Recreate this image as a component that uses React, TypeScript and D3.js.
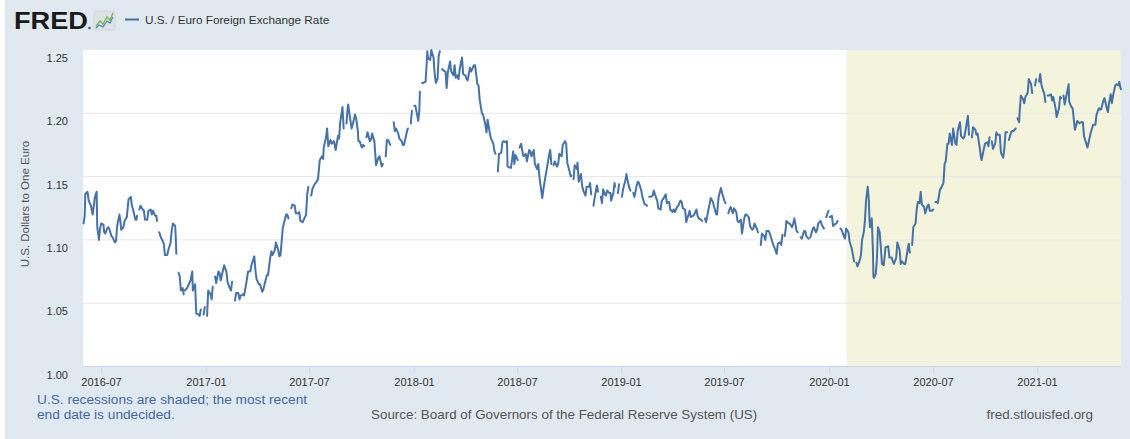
import React from "react";
import * as d3 from "d3";

type Obs = [string, number | null];

// U.S. dollars to one euro (null = missing observation, line breaks)
const rates2016: Obs[] = [
  ["2016-05-31", 1.113], ["2016-06-02", 1.119], ["2016-06-03", 1.1365], ["2016-06-07", 1.138], ["2016-06-09", 1.131],
  ["2016-06-13", 1.127], ["2016-06-16", 1.12], ["2016-06-20", 1.134], ["2016-06-23", 1.138], ["2016-06-24", 1.1105],
  ["2016-06-27", 1.1], ["2016-06-29", 1.109], ["2016-07-01", 1.113], ["2016-07-05", 1.112], ["2016-07-06", 1.1065],
  ["2016-07-08", 1.105], ["2016-07-11", 1.1085], ["2016-07-13", 1.11], ["2016-07-15", 1.109], ["2016-07-19", 1.103],
  ["2016-07-21", 1.102], ["2016-07-25", 1.098], ["2016-07-27", 1.099], ["2016-07-29", 1.111], ["2016-08-02", 1.12],
  ["2016-08-04", 1.114], ["2016-08-05", 1.108], ["2016-08-09", 1.11], ["2016-08-11", 1.115], ["2016-08-15", 1.118],
  ["2016-08-18", 1.132], ["2016-08-22", 1.134], ["2016-08-24", 1.127], ["2016-08-26", 1.124], ["2016-08-30", 1.116],
  ["2016-09-01", 1.116], ["2016-09-02", 1.119], ["2016-09-05", null], ["2016-09-06", 1.124], ["2016-09-08", 1.127],
  ["2016-09-12", 1.124], ["2016-09-14", 1.123], ["2016-09-16", 1.116], ["2016-09-20", 1.116], ["2016-09-22", 1.123],
  ["2016-09-26", 1.124], ["2016-09-28", 1.12], ["2016-09-30", 1.123], ["2016-10-04", 1.119], ["2016-10-06", 1.119],
  ["2016-10-07", 1.115], ["2016-10-10", null], ["2016-10-11", 1.106], ["2016-10-13", 1.103], ["2016-10-17", 1.099],
  ["2016-10-19", 1.097], ["2016-10-21", 1.088], ["2016-10-25", 1.088], ["2016-10-27", 1.092], ["2016-10-31", 1.098],
  ["2016-11-02", 1.108], ["2016-11-04", 1.113], ["2016-11-08", 1.111], ["2016-11-09", 1.102], ["2016-11-10", 1.089],
  ["2016-11-11", null], ["2016-11-14", 1.074], ["2016-11-16", 1.071], ["2016-11-18", 1.06], ["2016-11-21", 1.062],
  ["2016-11-23", 1.057], ["2016-11-24", null], ["2016-11-25", 1.06], ["2016-11-29", 1.062], ["2016-12-01", 1.064],
  ["2016-12-05", 1.068], ["2016-12-08", 1.075], ["2016-12-09", 1.06], ["2016-12-13", 1.065], ["2016-12-15", 1.042],
  ["2016-12-19", 1.041], ["2016-12-21", 1.04], ["2016-12-23", 1.045], ["2016-12-26", null], ["2016-12-28", 1.041],
  ["2016-12-30", 1.047],
];

const rates2017: Obs[] = [
  ["2017-01-02", null], ["2017-01-03", 1.04], ["2017-01-05", 1.06], ["2017-01-09", 1.057], ["2017-01-11", 1.053],
  ["2017-01-13", 1.063], ["2017-01-16", null], ["2017-01-17", 1.071], ["2017-01-19", 1.066], ["2017-01-23", 1.075],
  ["2017-01-25", 1.074], ["2017-01-27", 1.068], ["2017-01-31", 1.076], ["2017-02-02", 1.08], ["2017-02-06", 1.075],
  ["2017-02-08", 1.067], ["2017-02-10", 1.064], ["2017-02-14", 1.06], ["2017-02-16", 1.067], ["2017-02-20", null],
  ["2017-02-21", 1.052], ["2017-02-23", 1.058], ["2017-02-27", 1.058], ["2017-03-01", 1.053], ["2017-03-03", 1.056],
  ["2017-03-07", 1.057], ["2017-03-09", 1.056], ["2017-03-13", 1.066], ["2017-03-16", 1.075], ["2017-03-20", 1.075],
  ["2017-03-22", 1.08], ["2017-03-27", 1.087], ["2017-03-29", 1.076], ["2017-03-31", 1.069], ["2017-04-04", 1.065],
  ["2017-04-06", 1.065], ["2017-04-10", 1.059], ["2017-04-12", 1.061], ["2017-04-18", 1.072], ["2017-04-20", 1.072],
  ["2017-04-24", 1.086], ["2017-04-26", 1.091], ["2017-04-28", 1.088], ["2017-05-02", 1.092], ["2017-05-04", 1.098],
  ["2017-05-08", 1.092], ["2017-05-10", 1.087], ["2017-05-12", 1.088], ["2017-05-16", 1.109], ["2017-05-18", 1.113],
  ["2017-05-22", 1.12], ["2017-05-24", 1.12], ["2017-05-26", 1.117], ["2017-05-29", null], ["2017-05-31", 1.125],
  ["2017-06-02", 1.128], ["2017-06-06", 1.127], ["2017-06-08", 1.121], ["2017-06-12", 1.121], ["2017-06-14", 1.122],
  ["2017-06-16", 1.115], ["2017-06-20", 1.114], ["2017-06-22", 1.116], ["2017-06-26", 1.12], ["2017-06-28", 1.136],
  ["2017-06-30", 1.142], ["2017-07-04", null], ["2017-07-05", 1.135], ["2017-07-07", 1.14], ["2017-07-11", 1.144],
  ["2017-07-13", 1.145], ["2017-07-17", 1.148], ["2017-07-20", 1.163], ["2017-07-24", 1.166], ["2017-07-26", 1.164],
  ["2017-07-27", 1.173], ["2017-07-31", 1.181], ["2017-08-02", 1.188], ["2017-08-04", 1.174], ["2017-08-08", 1.179],
  ["2017-08-10", 1.176], ["2017-08-14", 1.178], ["2017-08-17", 1.171], ["2017-08-21", 1.182], ["2017-08-23", 1.18],
  ["2017-08-25", 1.193], ["2017-08-29", 1.205], ["2017-08-31", 1.188], ["2017-09-04", null], ["2017-09-05", 1.192],
  ["2017-09-07", 1.204], ["2017-09-08", 1.207], ["2017-09-12", 1.194], ["2017-09-14", 1.188], ["2017-09-18", 1.195],
  ["2017-09-20", 1.199], ["2017-09-22", 1.196], ["2017-09-25", 1.186], ["2017-09-26", 1.178], ["2017-09-28", 1.178],
  ["2017-10-02", 1.173], ["2017-10-04", 1.175], ["2017-10-06", 1.174], ["2017-10-09", null], ["2017-10-10", 1.181],
  ["2017-10-12", 1.185], ["2017-10-16", 1.178], ["2017-10-18", 1.179], ["2017-10-20", 1.184], ["2017-10-24", 1.178],
  ["2017-10-26", 1.165], ["2017-10-27", 1.159], ["2017-10-31", 1.165], ["2017-11-02", 1.166], ["2017-11-06", 1.158],
  ["2017-11-08", 1.16], ["2017-11-10", null], ["2017-11-13", 1.166], ["2017-11-15", 1.179], ["2017-11-17", 1.179],
  ["2017-11-21", 1.175], ["2017-11-23", null], ["2017-11-27", 1.193], ["2017-11-29", 1.186], ["2017-12-01", 1.188],
  ["2017-12-05", 1.184], ["2017-12-07", 1.18], ["2017-12-11", 1.178], ["2017-12-13", 1.175], ["2017-12-15", 1.175],
  ["2017-12-19", 1.183], ["2017-12-21", 1.187], ["2017-12-22", 1.188], ["2017-12-25", null], ["2017-12-27", 1.192],
  ["2017-12-29", 1.202],
];

const rates2018: Obs[] = [
  ["2018-01-01", null], ["2018-01-02", 1.206], ["2018-01-04", 1.206], ["2018-01-08", 1.197], ["2018-01-09", 1.194],
  ["2018-01-11", 1.202], ["2018-01-12", 1.217], ["2018-01-15", null], ["2018-01-16", 1.224], ["2018-01-18", 1.224],
  ["2018-01-22", 1.225], ["2018-01-24", 1.24], ["2018-01-25", 1.249], ["2018-01-26", 1.244], ["2018-01-30", 1.242],
  ["2018-02-01", 1.25], ["2018-02-05", 1.244], ["2018-02-07", 1.231], ["2018-02-09", 1.224], ["2018-02-12", 1.227],
  ["2018-02-14", 1.245], ["2018-02-16", 1.249], ["2018-02-19", null], ["2018-02-20", 1.235], ["2018-02-22", 1.234],
  ["2018-02-26", 1.233], ["2018-02-28", 1.22], ["2018-03-02", 1.232], ["2018-03-06", 1.241], ["2018-03-08", 1.233],
  ["2018-03-12", 1.23], ["2018-03-14", 1.238], ["2018-03-16", 1.228], ["2018-03-19", 1.23], ["2018-03-21", 1.227],
  ["2018-03-23", 1.235], ["2018-03-27", 1.244], ["2018-03-29", 1.231], ["2018-04-02", 1.23], ["2018-04-04", 1.227],
  ["2018-04-06", 1.226], ["2018-04-10", 1.236], ["2018-04-12", 1.233], ["2018-04-17", 1.238], ["2018-04-19", 1.238],
  ["2018-04-23", 1.223], ["2018-04-25", 1.222], ["2018-04-27", 1.211], ["2018-05-01", 1.2], ["2018-05-03", 1.199],
  ["2018-05-07", 1.191], ["2018-05-09", 1.185], ["2018-05-11", 1.195], ["2018-05-15", 1.184], ["2018-05-17", 1.18],
  ["2018-05-21", 1.176], ["2018-05-23", 1.17], ["2018-05-25", 1.168], ["2018-05-28", null], ["2018-05-29", 1.154],
  ["2018-05-31", 1.168], ["2018-06-04", 1.169], ["2018-06-06", 1.177], ["2018-06-08", 1.178], ["2018-06-12", 1.177],
  ["2018-06-14", 1.178], ["2018-06-15", 1.158], ["2018-06-19", 1.157], ["2018-06-21", 1.157], ["2018-06-25", 1.17],
  ["2018-06-27", 1.16], ["2018-06-29", 1.167], ["2018-07-03", 1.163], ["2018-07-04", null], ["2018-07-06", 1.173],
  ["2018-07-09", 1.176], ["2018-07-11", 1.17], ["2018-07-13", 1.166], ["2018-07-17", 1.168], ["2018-07-19", 1.162],
  ["2018-07-23", 1.171], ["2018-07-25", 1.17], ["2018-07-27", 1.166], ["2018-07-31", 1.171], ["2018-08-02", 1.16],
  ["2018-08-06", 1.156], ["2018-08-08", 1.16], ["2018-08-10", 1.15], ["2018-08-13", 1.14], ["2018-08-15", 1.133],
  ["2018-08-17", 1.14], ["2018-08-21", 1.151], ["2018-08-23", 1.156], ["2018-08-27", 1.167], ["2018-08-29", 1.171],
  ["2018-08-31", 1.16], ["2018-09-03", null], ["2018-09-04", 1.159], ["2018-09-06", 1.162], ["2018-09-10", 1.158],
  ["2018-09-12", 1.16], ["2018-09-14", 1.168], ["2018-09-18", 1.166], ["2018-09-20", 1.175], ["2018-09-24", 1.178],
  ["2018-09-26", 1.176], ["2018-09-28", 1.161], ["2018-10-02", 1.154], ["2018-10-04", 1.15], ["2018-10-05", 1.151],
  ["2018-10-08", null], ["2018-10-09", 1.148], ["2018-10-11", 1.159], ["2018-10-15", 1.156], ["2018-10-16", 1.161],
  ["2018-10-18", 1.146], ["2018-10-22", 1.152], ["2018-10-24", 1.143], ["2018-10-26", 1.139], ["2018-10-30", 1.135],
  ["2018-11-01", 1.142], ["2018-11-05", 1.142], ["2018-11-07", 1.145], ["2018-11-09", 1.136], ["2018-11-12", null],
  ["2018-11-13", 1.127], ["2018-11-15", 1.133], ["2018-11-19", 1.143], ["2018-11-21", 1.138], ["2018-11-22", null],
  ["2018-11-26", 1.134], ["2018-11-28", 1.129], ["2018-11-30", 1.14], ["2018-12-03", 1.136], ["2018-12-05", 1.135],
  ["2018-12-07", 1.139], ["2018-12-11", 1.137], ["2018-12-13", 1.137], ["2018-12-14", 1.131], ["2018-12-18", 1.137],
  ["2018-12-20", 1.145], ["2018-12-21", 1.142], ["2018-12-25", null], ["2018-12-26", 1.137], ["2018-12-28", 1.144],
];

const rates2019: Obs[] = [
  ["2019-01-01", null], ["2019-01-02", 1.134], ["2019-01-04", 1.14], ["2019-01-08", 1.147], ["2019-01-10", 1.152],
  ["2019-01-11", 1.149], ["2019-01-15", 1.141], ["2019-01-17", 1.139], ["2019-01-21", null], ["2019-01-22", 1.137],
  ["2019-01-24", 1.134], ["2019-01-28", 1.143], ["2019-01-30", 1.146], ["2019-02-01", 1.145], ["2019-02-05", 1.139],
  ["2019-02-07", 1.134], ["2019-02-11", 1.128], ["2019-02-13", 1.128], ["2019-02-15", 1.127], ["2019-02-18", null],
  ["2019-02-19", 1.134], ["2019-02-21", 1.134], ["2019-02-25", 1.135], ["2019-02-27", 1.139], ["2019-03-01", 1.136],
  ["2019-03-05", 1.131], ["2019-03-07", 1.125], ["2019-03-11", 1.124], ["2019-03-13", 1.131], ["2019-03-15", 1.132],
  ["2019-03-19", 1.135], ["2019-03-20", 1.136], ["2019-03-22", 1.129], ["2019-03-26", 1.13], ["2019-03-28", 1.124],
  ["2019-04-01", 1.122], ["2019-04-03", 1.124], ["2019-04-05", 1.122], ["2019-04-09", 1.126], ["2019-04-11", 1.127],
  ["2019-04-15", 1.131], ["2019-04-17", 1.13], ["2019-04-19", 1.125], ["2019-04-23", 1.124], ["2019-04-25", 1.114],
  ["2019-04-29", 1.12], ["2019-05-01", 1.123], ["2019-05-03", 1.118], ["2019-05-07", 1.119], ["2019-05-09", 1.12],
  ["2019-05-13", 1.124], ["2019-05-15", 1.119], ["2019-05-17", 1.117], ["2019-05-21", 1.116], ["2019-05-23", 1.115],
  ["2019-05-27", null], ["2019-05-28", 1.117], ["2019-05-30", 1.114], ["2019-06-03", 1.124], ["2019-06-05", 1.128],
  ["2019-06-07", 1.133], ["2019-06-11", 1.13], ["2019-06-13", 1.126], ["2019-06-17", 1.12], ["2019-06-18", 1.12],
  ["2019-06-21", 1.134], ["2019-06-25", 1.141], ["2019-06-27", 1.137], ["2019-07-01", 1.131], ["2019-07-03", 1.129],
  ["2019-07-04", null], ["2019-07-08", 1.121], ["2019-07-10", 1.124], ["2019-07-12", 1.126], ["2019-07-16", 1.121],
  ["2019-07-18", 1.125], ["2019-07-22", 1.122], ["2019-07-24", 1.115], ["2019-07-26", 1.114], ["2019-07-30", 1.116],
  ["2019-08-01", 1.105], ["2019-08-05", 1.117], ["2019-08-07", 1.12], ["2019-08-09", 1.12], ["2019-08-13", 1.118],
  ["2019-08-15", 1.111], ["2019-08-19", 1.108], ["2019-08-21", 1.109], ["2019-08-23", 1.113], ["2019-08-27", 1.109],
  ["2019-08-29", 1.106], ["2019-09-02", null], ["2019-09-03", 1.096], ["2019-09-05", 1.105], ["2019-09-09", 1.103],
  ["2019-09-11", 1.1], ["2019-09-13", 1.107], ["2019-09-17", 1.107], ["2019-09-19", 1.105], ["2019-09-23", 1.099],
  ["2019-09-25", 1.096], ["2019-09-27", 1.094], ["2019-10-01", 1.089], ["2019-10-03", 1.097], ["2019-10-07", 1.098],
  ["2019-10-09", 1.096], ["2019-10-11", 1.104], ["2019-10-14", null], ["2019-10-15", 1.103], ["2019-10-17", 1.109],
  ["2019-10-18", 1.115], ["2019-10-22", 1.113], ["2019-10-24", 1.113], ["2019-10-28", 1.11], ["2019-10-30", 1.113],
  ["2019-11-01", 1.117], ["2019-11-05", 1.107], ["2019-11-07", 1.106], ["2019-11-11", null], ["2019-11-12", 1.102],
  ["2019-11-14", 1.101], ["2019-11-18", 1.107], ["2019-11-20", 1.107], ["2019-11-22", 1.103], ["2019-11-26", 1.101],
  ["2019-11-28", null], ["2019-11-29", 1.102], ["2019-12-03", 1.108], ["2019-12-05", 1.11], ["2019-12-09", 1.106],
  ["2019-12-11", 1.108], ["2019-12-13", 1.113], ["2019-12-17", 1.115], ["2019-12-19", 1.112], ["2019-12-23", 1.109],
  ["2019-12-25", null], ["2019-12-27", 1.118], ["2019-12-31", 1.123],
];

const rates2020: Obs[] = [
  ["2020-01-01", null], ["2020-01-02", 1.118], ["2020-01-06", 1.119], ["2020-01-08", 1.111], ["2020-01-10", 1.112],
  ["2020-01-14", 1.113], ["2020-01-16", 1.115], ["2020-01-20", null], ["2020-01-21", 1.109], ["2020-01-23", 1.108],
  ["2020-01-27", 1.103], ["2020-01-29", 1.101], ["2020-01-31", 1.109], ["2020-02-04", 1.106], ["2020-02-06", 1.099],
  ["2020-02-10", 1.093], ["2020-02-12", 1.088], ["2020-02-14", 1.083], ["2020-02-17", null], ["2020-02-18", 1.082],
  ["2020-02-20", 1.079], ["2020-02-24", 1.084], ["2020-02-26", 1.088], ["2020-02-28", 1.1], ["2020-03-02", 1.106],
  ["2020-03-04", 1.115], ["2020-03-06", 1.131], ["2020-03-09", 1.142], ["2020-03-11", 1.131], ["2020-03-12", 1.116],
  ["2020-03-13", 1.11], ["2020-03-16", 1.117], ["2020-03-18", 1.093], ["2020-03-19", 1.071], ["2020-03-20", 1.07],
  ["2020-03-23", 1.073], ["2020-03-25", 1.084], ["2020-03-27", 1.11], ["2020-03-30", 1.106], ["2020-04-01", 1.094],
  ["2020-04-03", 1.081], ["2020-04-06", 1.08], ["2020-04-08", 1.088], ["2020-04-09", 1.094], ["2020-04-14", 1.095],
  ["2020-04-16", 1.086], ["2020-04-20", 1.086], ["2020-04-22", 1.083], ["2020-04-24", 1.081], ["2020-04-28", 1.086],
  ["2020-04-30", 1.098], ["2020-05-04", 1.092], ["2020-05-06", 1.081], ["2020-05-08", 1.083], ["2020-05-12", 1.081],
  ["2020-05-14", 1.081], ["2020-05-18", 1.092], ["2020-05-20", 1.097], ["2020-05-22", 1.09], ["2020-05-25", null],
  ["2020-05-26", 1.096], ["2020-05-28", 1.11], ["2020-06-01", 1.113], ["2020-06-03", 1.124], ["2020-06-05", 1.13],
  ["2020-06-08", 1.129], ["2020-06-10", 1.138], ["2020-06-12", 1.128], ["2020-06-16", 1.126], ["2020-06-18", 1.121],
  ["2020-06-22", 1.127], ["2020-06-24", 1.128], ["2020-06-26", 1.123], ["2020-06-30", 1.123], ["2020-07-02", 1.124],
  ["2020-07-03", null], ["2020-07-06", 1.13], ["2020-07-08", 1.13], ["2020-07-10", 1.129], ["2020-07-14", 1.14],
  ["2020-07-16", 1.141], ["2020-07-20", 1.145], ["2020-07-22", 1.16], ["2020-07-24", 1.162], ["2020-07-27", 1.176],
  ["2020-07-29", 1.176], ["2020-07-31", 1.184], ["2020-08-04", 1.175], ["2020-08-06", 1.188], ["2020-08-10", 1.176],
  ["2020-08-12", 1.175], ["2020-08-14", 1.186], ["2020-08-18", 1.193], ["2020-08-20", 1.182], ["2020-08-24", 1.18],
  ["2020-08-26", 1.182], ["2020-08-28", 1.187], ["2020-09-01", 1.198], ["2020-09-03", 1.183], ["2020-09-07", null],
  ["2020-09-08", 1.181], ["2020-09-10", 1.189], ["2020-09-14", 1.187], ["2020-09-16", 1.183], ["2020-09-18", 1.184],
  ["2020-09-22", 1.172], ["2020-09-24", 1.165], ["2020-09-25", 1.163], ["2020-09-29", 1.172], ["2020-10-01", 1.176],
  ["2020-10-05", 1.177], ["2020-10-07", 1.174], ["2020-10-09", 1.181], ["2020-10-12", null], ["2020-10-13", 1.178],
  ["2020-10-15", 1.172], ["2020-10-19", 1.176], ["2020-10-21", 1.185], ["2020-10-23", 1.183], ["2020-10-27", 1.183],
  ["2020-10-29", 1.169], ["2020-11-02", 1.165], ["2020-11-04", 1.172], ["2020-11-06", 1.185], ["2020-11-09", 1.185],
  ["2020-11-11", null], ["2020-11-12", 1.179], ["2020-11-16", 1.185], ["2020-11-18", 1.186], ["2020-11-20", 1.186],
  ["2020-11-24", 1.188], ["2020-11-26", null], ["2020-11-27", 1.196], ["2020-11-30", 1.193], ["2020-12-01", 1.202],
  ["2020-12-03", 1.214], ["2020-12-07", 1.211], ["2020-12-09", 1.208], ["2020-12-11", 1.213], ["2020-12-15", 1.216],
  ["2020-12-17", 1.227], ["2020-12-21", 1.223], ["2020-12-23", 1.216], ["2020-12-25", null], ["2020-12-28", 1.222],
  ["2020-12-30", 1.227],
];

const rates2021: Obs[] = [
  ["2021-01-01", null], ["2021-01-04", 1.225], ["2021-01-06", 1.231], ["2021-01-08", 1.223], ["2021-01-11", 1.218],
  ["2021-01-13", 1.216], ["2021-01-15", 1.209], ["2021-01-18", null], ["2021-01-19", 1.214], ["2021-01-21", 1.214],
  ["2021-01-25", 1.215], ["2021-01-27", 1.21], ["2021-01-29", 1.213], ["2021-02-02", 1.204], ["2021-02-04", 1.197],
  ["2021-02-08", 1.204], ["2021-02-10", 1.213], ["2021-02-12", 1.212], ["2021-02-15", null], ["2021-02-16", 1.214],
  ["2021-02-18", 1.207], ["2021-02-22", 1.216], ["2021-02-25", 1.223], ["2021-02-26", 1.209], ["2021-03-02", 1.205],
  ["2021-03-04", 1.204], ["2021-03-08", 1.187], ["2021-03-10", 1.19], ["2021-03-12", 1.194], ["2021-03-16", 1.192],
  ["2021-03-18", 1.193], ["2021-03-22", 1.193], ["2021-03-24", 1.182], ["2021-03-26", 1.179], ["2021-03-30", 1.173],
  ["2021-04-01", 1.177], ["2021-04-05", 1.185], ["2021-04-07", 1.188], ["2021-04-09", 1.191], ["2021-04-13", 1.191],
  ["2021-04-15", 1.199], ["2021-04-19", 1.204], ["2021-04-21", 1.203], ["2021-04-23", 1.203], ["2021-04-27", 1.21],
  ["2021-04-29", 1.212], ["2021-05-03", 1.204], ["2021-05-05", 1.201], ["2021-05-07", 1.208], ["2021-05-10", 1.215],
  ["2021-05-12", 1.208], ["2021-05-14", 1.214], ["2021-05-18", 1.222], ["2021-05-20", 1.223], ["2021-05-24", 1.222],
  ["2021-05-25", 1.225], ["2021-05-27", 1.22], ["2021-05-28", 1.219],
];

const xStart = "2016-05-30";
const xEnd = "2021-05-28";
const recessionStart = "2020-02-01";
const xTickLabels = ["2016-07", "2017-01", "2017-07", "2018-01", "2018-07", "2019-01", "2019-07", "2020-01", "2020-07", "2021-01"];
const yTickValues = [1.0, 1.05, 1.1, 1.15, 1.2, 1.25];
const seriesTitle = "U.S. / Euro Foreign Exchange Rate";
const yAxisTitle = "U.S. Dollars to One Euro";
const noteLines = ["U.S. recessions are shaded; the most recent", "end date is undecided."];
const sourceText = "Source: Board of Governors of the Federal Reserve System (US)";
const siteText = "fred.stlouisfed.org";

const FONT = "'Liberation Sans', Arial, Helvetica, sans-serif";
const LINE = "#4572a7";

export default function App() {
  const W = 1130, H = 439;
  const plot = { left: 83, right: 1121, top: 50, bottom: 366.5 };
  const parseDay = d3.timeParse("%Y-%m-%d");
  const parseMonth = d3.timeParse("%Y-%m");
  const all = [...rates2016, ...rates2017, ...rates2018, ...rates2019, ...rates2020, ...rates2021].map(([d, v]) => ({
    date: parseDay(d) as Date,
    v,
  }));
  const x = d3.scaleTime().domain([parseDay(xStart) as Date, parseDay(xEnd) as Date]).range([plot.left, plot.right]);
  const y = d3.scaleLinear().domain([1.0, 1.25]).range([plot.bottom, plot.top]);
  const line = d3
    .line<{ date: Date; v: number | null }>()
    .defined((d) => d.v != null)
    .x((d) => x(d.date))
    .y((d) => y(d.v as number));
  const path = line(all) || "";
  const recX = x(parseDay(recessionStart) as Date);
  const fmt = d3.format(".2f");

  return (
    <svg
      width={W}
      height={H}
      style={{ position: "absolute", left: 0, top: 0, display: "block" }}
      fontFamily={FONT}
    >
      <rect x={0} y={0} width={W} height={H} fill="#ffffff" />
      <rect x={5} y={0} width={W - 5} height={H} fill="#e1e9f0" />

      {/* header: logo */}
      <text x={14} y={28.5} fontSize={23} fontWeight={900} fill="#1b1b1b" textLength={74} lengthAdjust="spacingAndGlyphs">
        FRED
      </text>
      <circle cx={89.5} cy={28} r={1.3} fill="#555" />
      <g>
        <rect x={94} y={11} width={21} height={19} rx={2} fill="#dfe3e6" stroke="#c9ced2" strokeWidth={0.6} />
        <polyline points="96,26 100,21 103,24 107,17 110,20 113,13" fill="none" stroke="#79b843" strokeWidth={1.4} />
        <polyline points="96,28 99,25 103,27 107,21 110,23 113,17" fill="none" stroke="#4a86c5" strokeWidth={1.2} />
      </g>
      {/* legend */}
      <line x1={125} x2={139} y1={19.5} y2={19.5} stroke={LINE} strokeWidth={2} />
      <text x={145} y={23.5} fontSize={11.75} fill="#333">
        {seriesTitle}
      </text>

      {/* plot background */}
      <rect x={plot.left} y={plot.top} width={plot.right - plot.left} height={plot.bottom - plot.top} fill="#ffffff" />
      <rect x={recX} y={plot.top} width={plot.right - recX} height={plot.bottom - plot.top} fill="#f4f4dc" />

      {/* gridlines */}
      {yTickValues.slice(1, -1).map((v) => (
        <line key={v} x1={plot.left} x2={plot.right} y1={y(v)} y2={y(v)} stroke="#e6e6e6" strokeWidth={1} />
      ))}

      {/* series */}
      <path d={path} fill="none" stroke={LINE} strokeWidth={2} strokeLinejoin="round" strokeLinecap="round" />

      {/* x axis */}
      <line x1={plot.left} x2={plot.right} y1={plot.bottom} y2={plot.bottom} stroke="#ccd6eb" strokeWidth={1} />
      {xTickLabels.map((t) => {
        const xx = Math.round(x(parseMonth(t) as Date)) + 0.5;
        return (
          <g key={t}>
            <line x1={xx} x2={xx} y1={plot.bottom} y2={plot.bottom + 7} stroke="#ccd6eb" strokeWidth={1} />
            <text x={xx} y={386} fontSize={11} fill="#333" textAnchor="middle">
              {t}
            </text>
          </g>
        );
      })}

      {/* y axis labels */}
      {yTickValues.map((v) => (
        <text key={v} x={68} y={y(v) + 12} fontSize={11} fill="#333" textAnchor="end">
          {fmt(v)}
        </text>
      ))}
      <text
        transform={`translate(29, 204) rotate(-90)`}
        fontSize={11.5}
        fill="#555"
        textAnchor="middle"
      >
        {yAxisTitle}
      </text>

      {/* footer */}
      <text x={37} y={403.5} fontSize={13.7} fill="#3f6aa3">
        {noteLines[0]}
      </text>
      <text x={37} y={419} fontSize={13.7} fill="#3f6aa3">
        {noteLines[1]}
      </text>
      <text x={371} y={419} fontSize={13.4} fill="#555">
        {sourceText}
      </text>
      <text x={1093} y={419} fontSize={13.4} fill="#555" textAnchor="end">
        {siteText}
      </text>
    </svg>
  );
}
